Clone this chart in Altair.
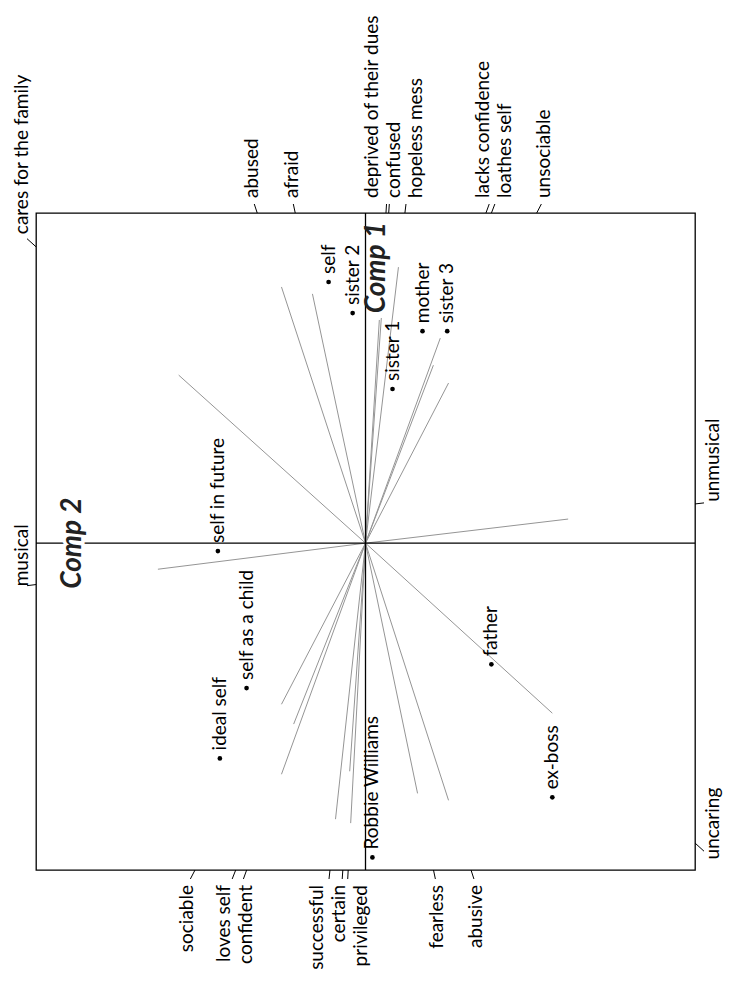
import altair as alt
import pandas as pd

# ---------------- data (biplot coordinates: c2 = horizontal, c1 = vertical) ----
elements = ["self", "sister 2", "sister 1", "mother", "sister 3", "self in future",
            "self as a child", "ideal self", "Robbie Williams", "father", "ex-boss"]
elem_c2 = [-0.112, -0.039, 0.082, 0.173, 0.248, -0.448, -0.361, -0.442, 0.021, 0.382, 0.567]
elem_c1 = [0.791, 0.697, 0.467, 0.642, 0.642, -0.024, -0.439, -0.652, -0.952, -0.367, -0.770]

pole_a = ["abused", "afraid", "cares for the family", "deprived of their dues", "confused",
          "hopeless mess", "lacks confidence", "loathes self", "unsociable", "unmusical"]
pole_a_c2 = [-0.255, -0.161, -0.567, 0.042, 0.048, 0.100, 0.227, 0.206, 0.252, 0.615]
pole_a_c1 = [0.776, 0.755, 0.509, 0.676, 0.682, 0.836, 0.621, 0.539, 0.485, 0.073]

pole_b = ["abusive", "fearless", "uncaring", "privileged", "certain", "successful",
          "confident", "loves self", "sociable", "musical"]
pole_b_c2 = [0.252, 0.158, 0.567, -0.045, -0.048, -0.091, -0.255, -0.218, -0.255, -0.630]
pole_b_c1 = [-0.779, -0.758, -0.515, -0.848, -0.691, -0.836, -0.700, -0.548, -0.488, -0.079]

axis_titles = ["Comp 1", "Comp 2"]

# ---------------- layout ----------------
X_DOM = [-1.0, 1.0]
Y_DOM = [-0.99, 1.0]
W, H = 659, 657
SX = W / (X_DOM[1] - X_DOM[0])
SY = H / (Y_DOM[1] - Y_DOM[0])
FONT = "Lato"
FS = 19


def ray_hit(a, b, xlo, xhi, ylo, yhi):
    ts = []
    if a > 0:
        ts.append((xhi / a, "right"))
    if a < 0:
        ts.append((xlo / a, "left"))
    if b > 0:
        ts.append((yhi / b, "top"))
    if b < 0:
        ts.append((ylo / b, "bottom"))
    t, side = min(ts)
    return a * t, b * t, side


def spread(vals, gap):
    order = sorted(range(len(vals)), key=lambda i: vals[i])
    groups = []
    for i in order:
        groups.append([[i], vals[i]])
        while len(groups) > 1:
            g1, g2 = groups[-2], groups[-1]
            end1 = g1[1] + (len(g1[0]) - 1) * gap / 2
            start2 = g2[1] - (len(g2[0]) - 1) * gap / 2
            if start2 - end1 < gap:
                idx = g1[0] + g2[0]
                c = sum(vals[k] for k in idx) / len(idx)
                groups[-2:] = [[idx, c]]
            else:
                break
    out = {}
    for idx, c in groups:
        n = len(idx)
        for k, i in enumerate(idx):
            out[i] = c + (k - (n - 1) / 2) * gap
    return [out[i] for i in range(len(vals))]


names = pole_a + pole_b
pc2 = pole_a_c2 + pole_b_c2
pc1 = pole_a_c1 + pole_b_c1

lines = pd.DataFrame({"name": names, "x": 0.0, "y": 0.0, "x2": pc2, "y2": pc1})

tick_rows = []
lab_rows = []
T = 9.0
ML, MR, MY = 14.0, 18.0, 15.0
for n, a, b in zip(names, pc2, pc1):
    x1, y1, _ = ray_hit(a, b, X_DOM[0], X_DOM[1], Y_DOM[0], Y_DOM[1])
    x2, y2, _ = ray_hit(a, b, X_DOM[0] - T / SX, X_DOM[1] + T / SX,
                        Y_DOM[0] - T / SY, Y_DOM[1] + T / SY)
    tick_rows.append({"x": x1, "y": y1, "x2": x2, "y2": y2})
    lx, ly, side = ray_hit(a, b, X_DOM[0] - ML / SX, X_DOM[1] + MR / SX,
                           Y_DOM[0] - MY / SY, Y_DOM[1] + MY / SY)
    lab_rows.append({"name": n, "x": lx, "y": ly, "side": side})

labs = pd.DataFrame(lab_rows)
for side in ["top", "bottom"]:
    m = labs["side"] == side
    px = list(labs.loc[m, "x"] * SX)
    labs.loc[m, "x"] = [v / SX for v in spread(px, 22.0)]
ticks = pd.DataFrame(tick_rows)

elems = pd.DataFrame({"name": elements, "x": elem_c2, "y": elem_c1})
axes_df = pd.DataFrame({"x": [0.0, X_DOM[0]], "y": [Y_DOM[0], 0.0],
                        "x2": [0.0, X_DOM[1]], "y2": [Y_DOM[1], 0.0]})

xs = alt.Scale(domain=X_DOM, nice=False, zero=False)
ys = alt.Scale(domain=Y_DOM, nice=False, zero=False)


def X(f="x"):
    return alt.X(f + ":Q", scale=xs, axis=None)


def Y(f="y"):
    return alt.Y(f + ":Q", scale=ys, axis=None)


line_layer = alt.Chart(lines).mark_rule(color="#959595", strokeWidth=1).encode(
    x=X(), y=Y(), x2="x2:Q", y2="y2:Q")
axes_layer = alt.Chart(axes_df).mark_rule(color="black", strokeWidth=1.3).encode(
    x=X(), y=Y(), x2="x2:Q", y2="y2:Q")
tick_layer = alt.Chart(ticks).mark_rule(color="black", strokeWidth=1).encode(
    x=X(), y=Y(), x2="x2:Q", y2="y2:Q")

lab_up = alt.Chart(labs[labs["side"] != "bottom"]).mark_text(
    angle=270, align="left", baseline="middle", font=FONT, fontSize=FS, color="black"
).encode(x=X(), y=Y(), text="name:N")
lab_down = alt.Chart(labs[labs["side"] == "bottom"]).mark_text(
    angle=270, align="right", baseline="middle", font=FONT, fontSize=FS, color="black"
).encode(x=X(), y=Y(), text="name:N")

dots = alt.Chart(elems).mark_circle(color="black", size=22, opacity=1).encode(x=X(), y=Y())
elem_text = alt.Chart(elems).mark_text(
    angle=270, align="left", baseline="middle", dx=8, font=FONT, fontSize=FS, color="black"
).encode(x=X(), y=Y(), text="name:N")

c1_df = pd.DataFrame({"x": [0.0], "y": [Y_DOM[1]], "t": [axis_titles[0]]})
c2_df = pd.DataFrame({"x": [X_DOM[0]], "y": [0.0], "t": [axis_titles[1]]})
title_style = dict(font=FONT, fontSize=28, fontWeight="bold", fontStyle="italic")
comp1 = alt.Chart(c1_df).mark_text(
    angle=270, align="right", baseline="alphabetic", dx=-9, dy=19, color="#222222", **title_style
).encode(x=X(), y=Y(), text="t:N")
comp2_halo = alt.Chart(c2_df).mark_text(
    angle=270, align="center", baseline="alphabetic", dy=45, color="white",
    stroke="white", strokeWidth=7, **title_style
).encode(x=X(), y=Y(), text="t:N")
comp2 = alt.Chart(c2_df).mark_text(
    angle=270, align="center", baseline="alphabetic", dy=45, color="#222222", **title_style
).encode(x=X(), y=Y(), text="t:N")

chart = alt.layer(
    line_layer, axes_layer, tick_layer, lab_up, lab_down, dots, elem_text,
    comp1, comp2_halo, comp2
).properties(
    width=W, height=H,
    autosize=alt.AutoSizeParams(type="none"),
    padding={"left": 28, "top": 205, "right": 30, "bottom": 104},
).configure_view(stroke="black", strokeWidth=1.3)

chart.save("out.html", embed_options={"renderer": "svg", "actions": False})
